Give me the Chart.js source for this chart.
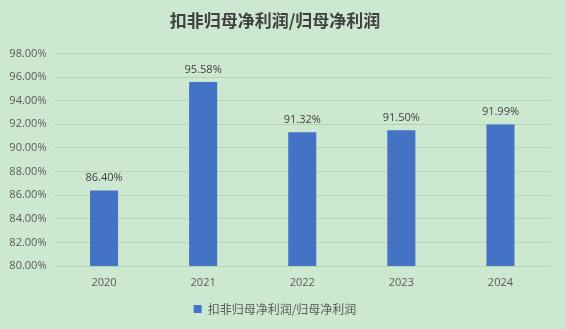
<!DOCTYPE html>
<html>
<head>
<meta charset="utf-8">
<script src="https://cdn.jsdelivr.net/npm/chart.js@4"></script>
<style>
    html, body { margin: 0; padding: 0; background: #cde8d0; }
    #wrap { width: 565px; height: 329px; position: relative; }
</style>
</head>
<body>
<div id="wrap"><canvas id="ratioChart"></canvas></div>
<script>
// 데이터
const years = ['2020', '2021', '2022', '2023', '2024'];
const ratioValues = [86.40, 95.58, 91.32, 91.50, 91.99];
const seriesName = '扣非归母净利润/归母净利润';
const chartTitle = '扣非归母净利润/归母净利润';

// 막대 위 값 표시
const valueLabels = {
    id: 'valueLabels',
    afterDatasetsDraw(chart) {
        const ctx = chart.ctx;
        const meta = chart.getDatasetMeta(0);
        ctx.save();
        ctx.font = '11px "Open Sans", "DejaVu Sans", sans-serif';
        ctx.fillStyle = '#404040';
        ctx.textAlign = 'center';
        ctx.textBaseline = 'bottom';
        meta.data.forEach((bar, i) => {
            ctx.fillText(ratioValues[i].toFixed(2) + '%', bar.x, bar.y - 7);
        });
        ctx.restore();
    }
};

const ctx = document.getElementById('ratioChart').getContext('2d');
new Chart(ctx, {
    type: 'bar',
    data: {
        labels: years,
        datasets: [{
            label: seriesName,
            data: ratioValues,
            backgroundColor: '#4472c4',
            categoryPercentage: 1,
            barPercentage: 0.283
        }]
    },
    options: {
        responsive: true,
        maintainAspectRatio: false,
        animation: false,
        layout: { padding: { left: 0, right: 15, top: 6, bottom: 4 } },
        plugins: {
            title: {
                display: true,
                text: chartTitle,
                color: '#404040',
                font: { family: '"Noto Sans CJK SC"', size: 17, weight: 'bold' },
                padding: { top: 4, bottom: 23 }
            },
            legend: {
                position: 'bottom',
                labels: {
                    color: '#595959',
                    font: { family: '"Noto Sans CJK SC"', size: 12 },
                    boxWidth: 8,
                    boxHeight: 8,
                    padding: 8
                }
            },
            tooltip: { enabled: false }
        },
        scales: {
            y: {
                min: 80,
                max: 98,
                afterFit: scale => { scale.width = 54.5; },
                ticks: {
                    stepSize: 2,
                    padding: 8,
                    color: '#595959',
                    font: { family: '"Open Sans", "DejaVu Sans", sans-serif', size: 11 },
                    callback: v => v.toFixed(2) + '%'
                },
                grid: { color: '#b3d6b8', drawTicks: false },
                border: { display: false }
            },
            x: {
                afterFit: scale => { scale.height = 29; },
                ticks: {
                    color: '#595959',
                    padding: 2,
                    font: { family: '"Open Sans", "DejaVu Sans", sans-serif', size: 11 }
                },
                grid: { display: false },
                border: { color: '#b3d6b8' }
            }
        }
    },
    plugins: [valueLabels]
});
</script>
</body>
</html>
